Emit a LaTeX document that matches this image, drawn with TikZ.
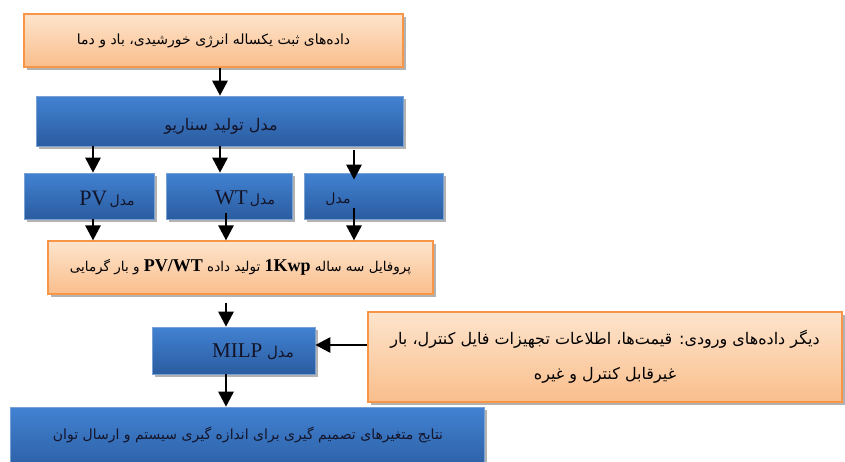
\documentclass[tikz,border=0pt]{standalone}
\usepackage{fontspec}
\usetikzlibrary{arrows.meta,shadows,calc}
\TeXXeTstate=1
\newfontfamily\arabicfont[Script=Arabic]{DejaVu Sans}
\newfontfamily\latinfont{Liberation Serif}
\newcommand{\fa}[1]{\arabicfont\beginR #1\endR}
\newcommand{\lt}[1]{\beginL{\latinfont #1}\endL}
\definecolor{bluetop}{RGB}{66,130,210}
\definecolor{bluebot}{RGB}{42,92,160}
\definecolor{blueedge}{RGB}{120,160,210}
\definecolor{ortop}{RGB}{253,228,204}
\definecolor{orbot}{RGB}{250,190,140}
\definecolor{oredge}{RGB}{247,150,70}
\definecolor{txt}{RGB}{20,20,40}
\tikzset{
  blubox/.style={draw=blueedge, line width=0.6pt, top color=bluetop, bottom color=bluebot,
    drop shadow={shadow xshift=2.5pt, shadow yshift=-2.5pt, opacity=0.3, fill=black},
    inner sep=0pt, text=txt},
  orbox/.style={draw=oredge, line width=1.2pt, top color=ortop, bottom color=orbot,
    drop shadow={shadow xshift=2.5pt, shadow yshift=-2.5pt, opacity=0.3, fill=black},
    inner sep=0pt, text=black},
  lbl/.style={inner sep=0pt, text=txt},
  arr/.style={line width=2.7pt, -{Triangle[width=15pt,length=15pt]}}
}
\begin{document}
\begin{tikzpicture}[x=1pt,y=-1pt]
\useasboundingbox[fill=white] (0,0) rectangle (845,461);
\clip (0,0) rectangle (845,461);
% boxes
\node[orbox, minimum width=379pt, minimum height=53pt] (data) at (213.5,40.5)
  {\fontsize{14}{16}\selectfont\fa{داده‌های ثبت یکساله انرژی خورشیدی، باد و دما}};
\node[blubox, minimum width=367pt, minimum height=50pt] (scen) at (219.5,121) {};
\node[lbl] (scentext) at (221,126) {\fontsize{16}{18}\selectfont\fa{مدل تولید سناریو}};
\node[blubox, minimum width=130pt, minimum height=46pt] (pv) at (89,196) {};
\node[lbl] (pvtext) at (107,199) {\fontsize{14}{16}\selectfont\fa{مدل\,\lt{\fontsize{22}{24}\selectfont PV}}};
\node[blubox, minimum width=126pt, minimum height=46pt] (wt) at (229,196) {};
\node[lbl] (wttext) at (245,199) {\fontsize{14}{16}\selectfont\fa{مدل\,\lt{\fontsize{21}{23}\selectfont WT}}};
\node[blubox, minimum width=139pt, minimum height=46pt] (third) at (373.5,196) {};
\node[lbl] (thirdtext) at (338,199) {\fontsize{14}{16}\selectfont\fa{مدل}};
\node[orbox, minimum width=385pt, minimum height=53pt] (prof) at (240.5,267.5)
  {\fontsize{13.5}{16}\selectfont\fa{پروفایل سه ساله \lt{\fontsize{18}{20}\selectfont\bfseries 1Kwp} تولید داده \lt{\fontsize{18}{20}\selectfont\bfseries PV/WT} و بار گرمایی}};
\node[blubox, minimum width=163pt, minimum height=47pt] (milp) at (233.5,350.5) {};
\node[lbl] (milptext) at (253,352) {\fontsize{15}{17}\selectfont\fa{مدل \lt{\fontsize{21}{23}\selectfont MILP}}};
\node[orbox, minimum width=474pt, minimum height=90pt, align=center,
  font=\fontsize{16}{35}\selectfont] (other) at (605,357)
  {\fa{دیگر داده‌های ورودی: قیمت‌ها، اطلاعات تجهیزات فایل کنترل، بار}\\
   \fa{غیرقابل کنترل و غیره}};
\node[blubox, minimum width=474pt, minimum height=68pt] (res) at (247,441) {};
\node[lbl] (restext) at (248,435) {\fontsize{14}{16}\selectfont\fa{نتایج متغیرهای تصمیم گیری برای اندازه گیری سیستم و ارسال توان}};
% connectors
\draw[arr] (data.south -| 220,0) -- (scen.north -| 220,0);
\draw[arr] (scen.south -| 93,0) -- (pv.north -| 93,0);
\draw[arr] (scen.south -| 220,0) -- (wt.north -| 220,0);
\draw[arr] ([yshift=-4pt]scen.south -| 354,0) -- ([yshift=-7pt]third.north -| 354,0);
\draw[arr] (pv.south -| 93,0) -- (prof.north -| 93,0);
\draw[arr] ([yshift=6pt]wt.south -| 226,0) -- (prof.north -| 226,0);
\draw[arr] ([yshift=11pt]third.south -| 354,0) -- (prof.north -| 354,0);
\draw[arr] ([yshift=-8pt]prof.south -| 226,0) -- (milp.north -| 226,0);
\draw[arr] (milp.south -| 226,0) -- (res.north -| 226,0);
\draw[arr] (other.west |- 0,345) -- (milp.east |- 0,345);
\end{tikzpicture}
\end{document}
